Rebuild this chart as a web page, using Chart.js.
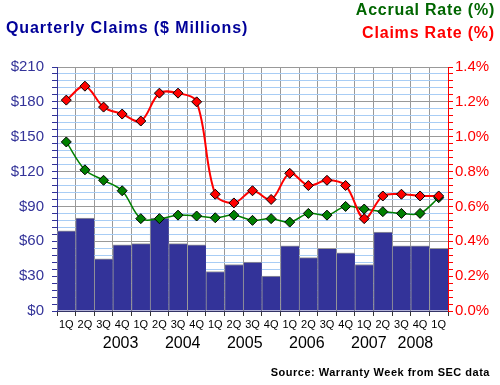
<!DOCTYPE html>
<html>
<head>
<meta charset="utf-8">
<script src="https://cdn.jsdelivr.net/npm/chart.js@4"></script>
<style>
  body { margin: 0; background: #fff; }
  #wrap { position: relative; width: 500px; height: 385px; background: #fff; overflow: hidden; }
  #wrap div.t { position: absolute; font-family: Arial, "Liberation Sans", sans-serif; font-weight: bold; line-height: 1; white-space: nowrap; }
  #title { left: 6px; top: 20px; font-size: 16px; color: #000099; letter-spacing: 0.9px; }
  #accrual { right: 5px; top: 2px; font-size: 16px; color: #006600; letter-spacing: 0.75px; }
  #claimsLbl { right: 5px; top: 25px; font-size: 16px; color: #ff0000; letter-spacing: 0.8px; }
  #source { right: 10px; top: 367px; font-size: 11px; color: #000; letter-spacing: 0.5px; }
</style>
</head>
<body>
<div id="wrap">
  <canvas id="chart" width="500" height="385"></canvas>
  <div class="t" id="title">Quarterly Claims ($ Millions)</div>
  <div class="t" id="accrual">Accrual Rate (%)</div>
  <div class="t" id="claimsLbl">Claims Rate (%)</div>
  <div class="t" id="source">Source: Warranty Week from SEC data</div>
</div>
<script>
// === データ ===
const quarters = ['1Q','2Q','3Q','4Q','1Q','2Q','3Q','4Q','1Q','2Q','3Q','4Q',
                  '1Q','2Q','3Q','4Q','1Q','2Q','3Q','4Q','1Q'];
const years = ['2003', '2004', '2005', '2006', '2007', '2008'];
const yearPos = [2, 6, 10, 14, 18, 21];   // 四半期インデックス上の中心位置

// 四半期クレーム額 ($ Millions)
const claims = [69, 80, 45, 57, 58, 80, 58, 57, 34, 40, 42, 30,
                56, 46, 54, 50, 40, 68, 56, 56, 54];
// クレーム率 (%)
const claimsRate = [1.21, 1.29, 1.17, 1.13, 1.09, 1.25, 1.25, 1.20, 0.67, 0.62, 0.69, 0.64,
                    0.79, 0.72, 0.75, 0.72, 0.53, 0.66, 0.67, 0.66, 0.66];
// 引当率 (%)
const accrualRate = [0.97, 0.81, 0.75, 0.69, 0.53, 0.53, 0.55, 0.545, 0.535, 0.55, 0.52, 0.53,
                     0.51, 0.56, 0.55, 0.60, 0.585, 0.57, 0.56, 0.56, 0.65];

// === 共通設定 ===
Chart.defaults.font.family = 'Arial, "Liberation Sans", sans-serif';
Chart.defaults.animation = false;

const NAVY = '#333399';
const GRID_GRAY = '#999999';
const GRID_BLUE = '#a8cdf5';

const isMajorRate = v => {
    const t = Math.round(v * 100);
    return t % 20 === 0;
};

new Chart(document.getElementById('chart'), {
    type: 'bar',
    data: {
        labels: quarters,
        datasets: [
            {
                label: 'Accrual Rate (%)',
                type: 'line',
                data: accrualRate,
                yAxisID: 'y1',
                borderColor: '#008000',
                borderWidth: 1.5,
                tension: 0.35,
                pointStyle: 'rectRot',
                pointRadius: 5,
                pointBackgroundColor: '#008000',
                pointBorderColor: '#000',
                pointBorderWidth: 1,
                order: 2,
            },
            {
                label: 'Claims Rate (%)',
                type: 'line',
                data: claimsRate,
                yAxisID: 'y1',
                borderColor: '#ff0000',
                borderWidth: 2,
                tension: 0.35,
                pointStyle: 'rectRot',
                pointRadius: 5,
                pointBackgroundColor: '#ff0000',
                pointBorderColor: '#000',
                pointBorderWidth: 1,
                order: 1,
            },
            {
                label: 'Quarterly Claims ($ Millions)',
                data: claims,
                yAxisID: 'y',
                backgroundColor: NAVY,
                borderColor: '#999999',
                borderWidth: { left: 1, top: 1, right: 0, bottom: 0 },
                borderSkipped: 'bottom',
                barPercentage: 1,
                categoryPercentage: 1,
                order: 3,
            },
        ],
    },
    options: {
        responsive: false,
        maintainAspectRatio: false,
        layout: { padding: { top: 67, bottom: 30, left: 0, right: 0 } },
        plugins: {
            legend: { display: false },
            tooltip: { enabled: false },
        },
        scales: {
            x: {
                type: 'category',
                position: 'bottom',
                offset: true,
                grid: {
                    offset: true,
                    color: GRID_GRAY,
                    tickColor: '#333',
                    tickLength: 5,
                },
                border: { color: '#333366' },
                ticks: {
                    color: '#000',
                    font: { size: 11 },
                    padding: 2,
                    maxRotation: 0,
                    autoSkip: false,
                },
                afterFit: axis => { axis.height = 22; },
            },
            x2: {
                type: 'linear',
                position: 'bottom',
                min: 0,
                max: 21,
                grid: { display: false, drawTicks: false },
                border: { display: false },
                ticks: {
                    color: '#000',
                    font: { size: 16 },
                    padding: 1,
                    maxRotation: 0,
                    autoSkip: false,
                    callback: (v, i) => years[i],
                },
                afterBuildTicks: axis => { axis.ticks = yearPos.map(v => ({ value: v })); },
                afterFit: axis => { axis.height = 22; },
            },
            y: {
                position: 'left',
                min: 0,
                max: 210,
                grid: {
                    color: ctx => (ctx.tick && ctx.tick.value % 30 === 0) ? GRID_GRAY : GRID_BLUE,
                    tickColor: NAVY,
                    tickLength: 5,
                },
                border: { color: NAVY },
                ticks: {
                    stepSize: 6,
                    autoSkip: false,
                    color: NAVY,
                    font: { size: 15 },
                    padding: 8,
                    callback: v => (v % 30 === 0 ? '$' + v : ''),
                },
                afterFit: axis => { axis.width = 57; },
            },
            y1: {
                position: 'right',
                min: 0,
                max: 1.4,
                grid: {
                    drawOnChartArea: false,
                    tickColor: '#ff0000',
                    tickLength: 5,
                },
                border: { color: '#ff0000' },
                ticks: {
                    stepSize: 0.04,
                    autoSkip: false,
                    color: '#ff0000',
                    font: { size: 15 },
                    padding: 2,
                    callback: v => (isMajorRate(v) ? v.toFixed(1) + '%' : ''),
                },
                afterFit: axis => { axis.width = 52; },
            },
        },
    },
});
</script>
</body>
</html>
